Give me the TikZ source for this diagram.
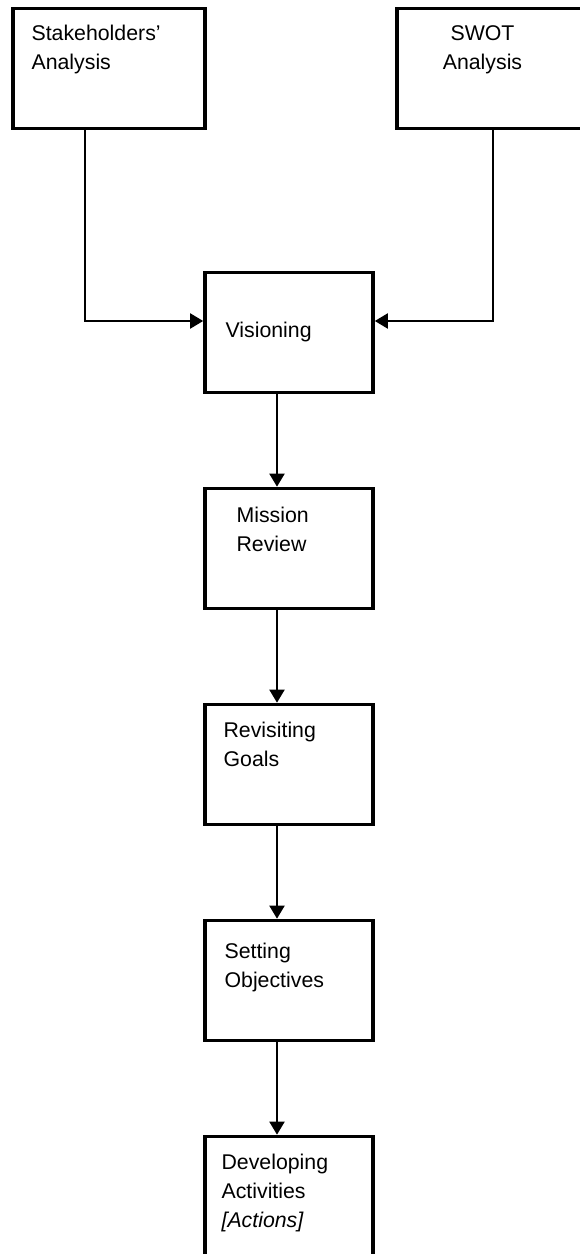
\documentclass[tikz,border=0pt]{standalone}
\usepackage{fontspec}
\setmainfont{Liberation Sans}
\usetikzlibrary{positioning,arrows.meta}

\begin{document}
\begin{tikzpicture}[
    x=0.5pt, y=-0.5pt,
    node distance=46.2pt,
    stepbox/.style={rectangle, draw=black, line width=1.8pt,
                    minimum width=84pt, minimum height=60pt, inner sep=0pt},
    topbox/.style={stepbox, minimum width=96pt},
    boxtext/.style={inner sep=0pt, anchor=base west, align=left,
                    font=\fontsize{10.65}{14.5}\selectfont},
    arrow/.style={-{Triangle[length=6.5pt, width=7.5pt]}, line width=1pt}
]
    \useasboundingbox (0,0) rectangle (579,1254);

    \node[topbox] (stakeholders) at (109,68.5) {};
    \node[topbox] (swot) at (493,68.5) {};
    \node[stepbox] (visioning) at (289,332.5) {};
    \node[stepbox, below=of visioning] (mission) {};
    \node[stepbox, below=of mission] (goals) {};
    \node[stepbox, below=of goals] (objectives) {};
    \node[stepbox, below=of objectives] (activities) {};

    % texts sit near the top left of each box (base = last line)
    \node[boxtext, xshift=10pt, yshift=-31.5pt] (stakeholderstext) at (stakeholders.north west) {Stakeholders’\\Analysis};
    \node[boxtext, anchor=base, align=center, xshift=-5.25pt, yshift=-31.5pt] (swottext) at (swot.north) {SWOT\\Analysis};
    \node[boxtext, xshift=11pt, yshift=-33.5pt] (visioningtext) at (visioning.north west) {Visioning};
    \node[boxtext, xshift=16.5pt, yshift=-32.5pt] (missiontext) at (mission.north west) {Mission\\Review};
    \node[boxtext, xshift=10pt, yshift=-32pt] (goalstext) at (goals.north west) {Revisiting\\Goals};
    \node[boxtext, xshift=10.5pt, yshift=-34.5pt] (objectivestext) at (objectives.north west) {Setting\\Objectives};
    \node[boxtext, xshift=9pt, yshift=-46.5pt] (activitiestext) at (activities.north west) {Developing\\Activities\\\textit{[Actions]}};

    \draw[arrow] ([xshift=-12pt]stakeholders.south) |- ([yshift=5.75pt]visioning.west);
    \draw[arrow] (swot.south) |- ([yshift=5.75pt]visioning.east);
    \draw[arrow] ([xshift=-6pt]visioning.south) -- ([xshift=-6pt]mission.north);
    \draw[arrow] ([xshift=-6pt]mission.south) -- ([xshift=-6pt]goals.north);
    \draw[arrow] ([xshift=-6pt]goals.south) -- ([xshift=-6pt]objectives.north);
    \draw[arrow] ([xshift=-6pt]objectives.south) -- ([xshift=-6pt]activities.north);
\end{tikzpicture}
\end{document}
